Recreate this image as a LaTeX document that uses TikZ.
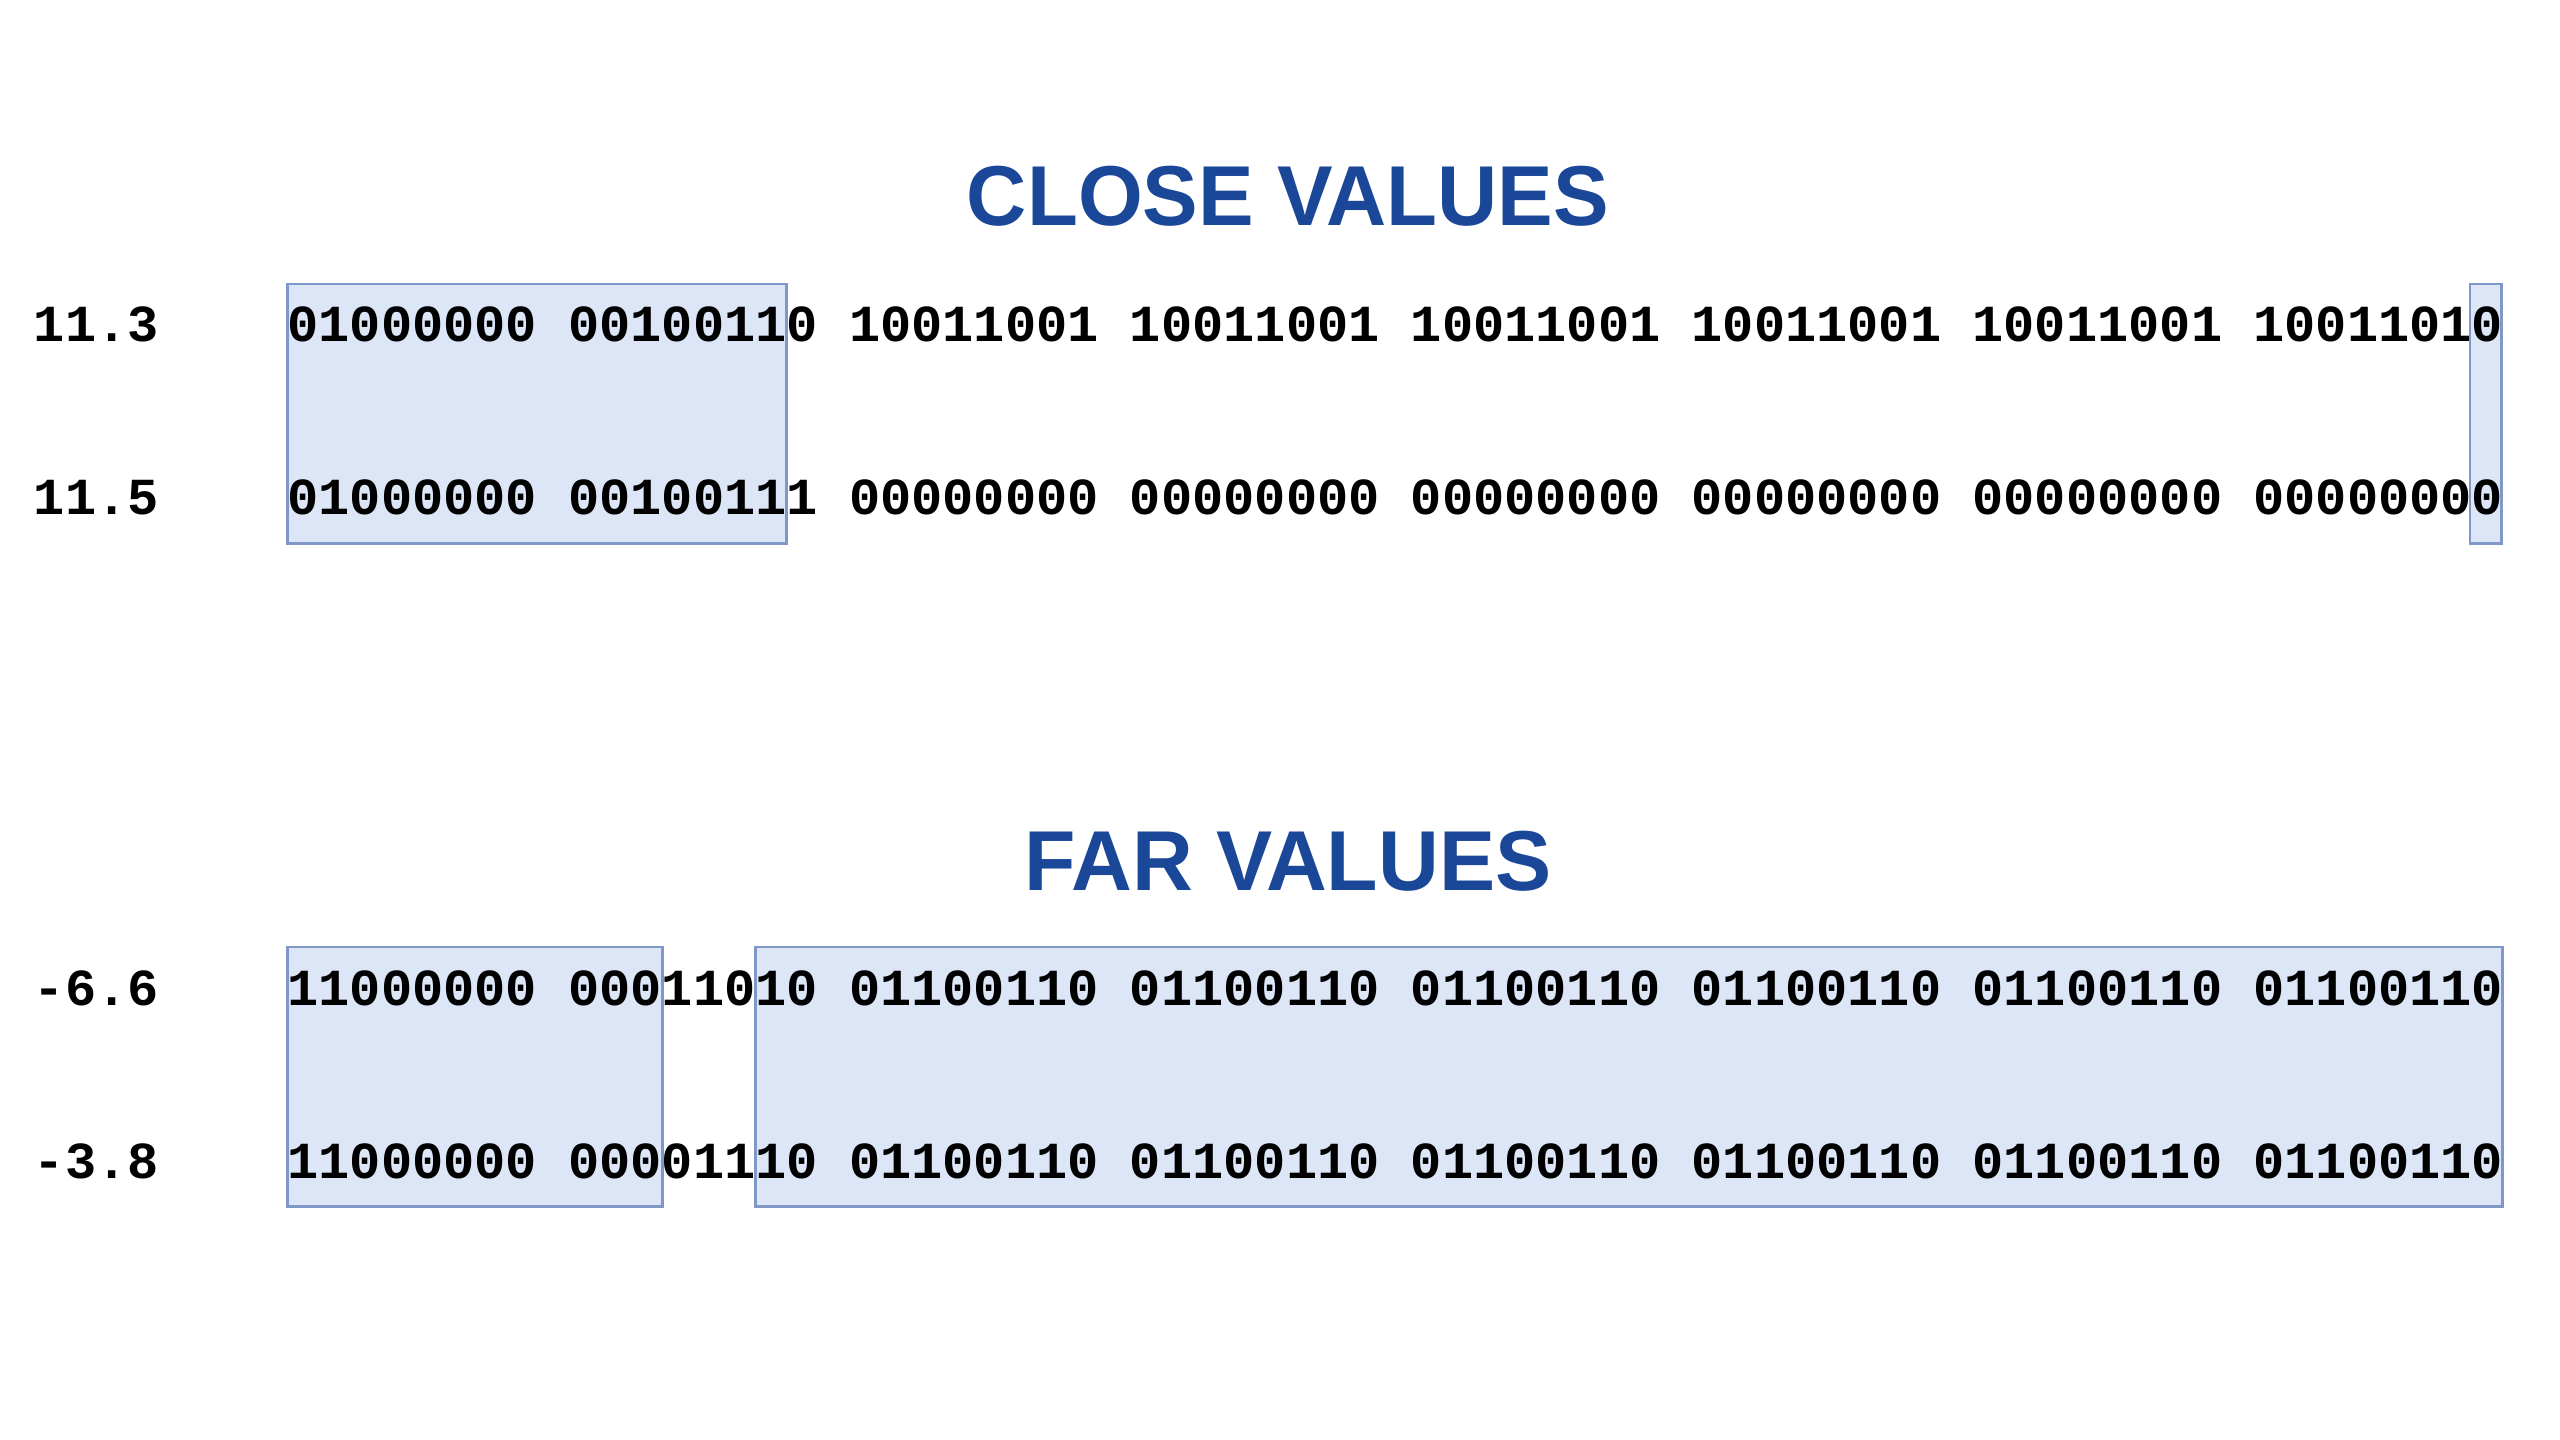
\documentclass[tikz,border=0pt]{standalone}
\usepackage{fontspec}
\setmainfont{Liberation Sans}
\newfontfamily\bitfont{Liberation Mono}
\definecolor{titleblue}{HTML}{1B4799}
\definecolor{hlfill}{HTML}{DCE6F7}
\definecolor{hldraw}{HTML}{7F98C8}
\begin{document}
\begin{tikzpicture}[x=0.01cm,y=-0.01cm,
  bits/.style={anchor=base west, inner sep=0pt, outer sep=0pt,
    font=\bitfont\bfseries\fontsize{14.79pt}{16pt}\selectfont},
  heading/.style={anchor=base, inner sep=0pt, text=titleblue,
    font=\bfseries\fontsize{24.18pt}{28pt}\selectfont},
  hl/.style={fill=hlfill, draw=hldraw, line width=0.7pt}]
\useasboundingbox[fill=white] (0,0) rectangle (2560,1440);

% highlight boxes
\path[hl] (287.4,284) rectangle (786.3,543.5);
\path[hl] (2470,284) rectangle (2501.5,543.5);
\path[hl] (287.4,947) rectangle (662.5,1206.5);
\path[hl] (755.5,947) rectangle (2502.5,1206.5);

% titles
\node[heading] (t1) at (1288,226) {\scalebox{0.98}[1]{CLOSE VALUES}};
\node[heading] (t2) at (1288,890) {\scalebox{0.99}[1]{FAR VALUES}};

% labels
\node[bits] (l1) at (34,342) {11.3};
\node[bits] (l2) at (34,515) {11.5};
\node[bits] (l3) at (34,1005) {-6.6};
\node[bits] (l4) at (34,1178) {-3.8};

% bit rows
\node[bits] (r1) at (287.4,342) {01000000 00100110 10011001 10011001 10011001 10011001 10011001 10011010};
\node[bits] (r2) at (287.4,515) {01000000 00100111 00000000 00000000 00000000 00000000 00000000 00000000};
\node[bits] (r3) at (287.4,1005) {11000000 00011010 01100110 01100110 01100110 01100110 01100110 01100110};
\node[bits] (r4) at (287.4,1178) {11000000 00001110 01100110 01100110 01100110 01100110 01100110 01100110};
\end{tikzpicture}
\end{document}
